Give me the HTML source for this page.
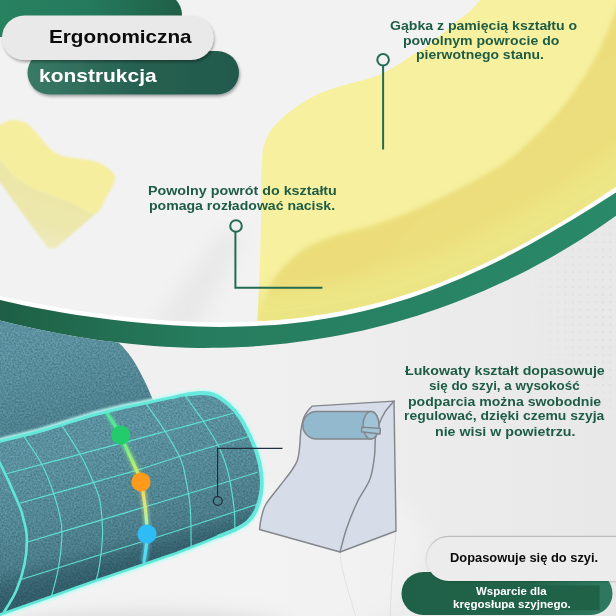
<!DOCTYPE html>
<html lang="pl"><head><meta charset="utf-8"><title>Ergonomiczna konstrukcja</title>
<style>
html,body{margin:0;padding:0}
body{width:616px;height:616px;overflow:hidden;position:relative;background:#ededed;font-family:"Liberation Sans",sans-serif;font-weight:bold}
svg{position:absolute;left:0;top:0}
.t{position:absolute;white-space:nowrap;line-height:1;transform-origin:0 0;margin:0}
.g{color:#1d5c45}
.k{color:#0a0a0a}
.w{color:#ffffff}
</style></head>
<body>
<svg width="616" height="616" viewBox="0 0 616 616">
<defs>
  <linearGradient id="bgU" x1="0" y1="0" x2="1" y2="1">
    <stop offset="0" stop-color="#f2f2f2"/><stop offset="1" stop-color="#f2f2f2"/>
  </linearGradient>
  <linearGradient id="gPill" x1="0" y1="0" x2="1" y2="0">
    <stop offset="0" stop-color="#397a66"/><stop offset="0.55" stop-color="#26604f"/><stop offset="1" stop-color="#22594b"/>
  </linearGradient>
  <linearGradient id="gTop" x1="0" y1="0" x2="1" y2="0">
    <stop offset="0.1" stop-color="#28825f"/><stop offset="0.55" stop-color="#257a5e"/><stop offset="1" stop-color="#1f5f47"/>
  </linearGradient>
  <linearGradient id="gBand" x1="0" y1="0" x2="1" y2="0">
    <stop offset="0" stop-color="#1d5b43"/><stop offset="0.1" stop-color="#20664b"/><stop offset="0.32" stop-color="#267c5e"/><stop offset="1" stop-color="#298a69"/>
  </linearGradient>
  <linearGradient id="gPill2" gradientUnits="userSpaceOnUse" x1="401" y1="0" x2="613" y2="0">
    <stop offset="0" stop-color="#1f6148"/><stop offset="0.6" stop-color="#216449"/><stop offset="0.92" stop-color="#2e7860"/><stop offset="1" stop-color="#2e7860"/>
  </linearGradient>
  <linearGradient id="pillEdge" x1="0" y1="0" x2="0" y2="1">
    <stop offset="0" stop-color="#bdbdbd"/><stop offset="0.45" stop-color="#cfcfcf" stop-opacity="0.5"/><stop offset="0.8" stop-color="#d8d8d8" stop-opacity="0"/>
  </linearGradient>
  <filter id="sh2" x="-10%" y="-30%" width="120%" height="170%">
    <feGaussianBlur in="SourceAlpha" stdDeviation="1.2"/><feOffset dx="0" dy="0.5"/>
    <feComponentTransfer><feFuncA type="linear" slope="0.18"/></feComponentTransfer>
    <feMerge><feMergeNode/><feMergeNode in="SourceGraphic"/></feMerge>
  </filter>
  <linearGradient id="foamF" x1="0" y1="0" x2="1" y2="1">
    <stop offset="0" stop-color="#ecdd79"/><stop offset="0.6" stop-color="#ecde7b"/><stop offset="1" stop-color="#ede585"/>
  </linearGradient>
  <filter id="sh" x="-10%" y="-30%" width="120%" height="170%">
    <feGaussianBlur in="SourceAlpha" stdDeviation="1.6"/><feOffset dx="1" dy="1.5"/>
    <feComponentTransfer><feFuncA type="linear" slope="0.35"/></feComponentTransfer>
    <feMerge><feMergeNode/><feMergeNode in="SourceGraphic"/></feMerge>
  </filter>
  <filter id="tex" x="0" y="0" width="100%" height="100%" color-interpolation-filters="sRGB">
    <feTurbulence type="fractalNoise" baseFrequency="0.55" numOctaves="2" seed="7" result="n"/>
    <feColorMatrix in="n" type="matrix" values="0 0 0 0 0.45  0 0 0 0 0.66  0 0 0 0 0.71  1.35 0 0 0 -0.175" result="sp"/>
    <feComposite in="sp" in2="SourceGraphic" operator="in" result="spc"/>
    <feMerge><feMergeNode in="SourceGraphic"/><feMergeNode in="spc"/></feMerge>
  </filter>
  <filter id="blur05"><feGaussianBlur stdDeviation="0.5"/></filter>
  <filter id="blur8" x="-20%" y="-40%" width="140%" height="180%"><feGaussianBlur stdDeviation="9"/></filter>
  <filter id="blur12"><feGaussianBlur stdDeviation="1.3"/></filter>
  <filter id="blur08"><feGaussianBlur stdDeviation="0.9"/></filter>
  <filter id="blur2"><feGaussianBlur stdDeviation="1.6"/></filter>
  <filter id="blur1"><feGaussianBlur stdDeviation="0.6"/></filter>
  <linearGradient id="cylG" gradientUnits="userSpaceOnUse" x1="120" y1="410" x2="160" y2="560">
    <stop offset="0.15" stop-color="#0a2a35" stop-opacity="0"/><stop offset="0.55" stop-color="#0a2a35" stop-opacity="0.1"/><stop offset="0.8" stop-color="#0a2a35" stop-opacity="0.2"/><stop offset="0.92" stop-color="#0a2a35" stop-opacity="0.42"/><stop offset="1" stop-color="#0a2a35" stop-opacity="0.5"/>
  </linearGradient>
  <linearGradient id="pilSh" gradientUnits="userSpaceOnUse" x1="60" y1="340" x2="85" y2="440">
    <stop offset="0" stop-color="#0a2a35" stop-opacity="0"/><stop offset="1" stop-color="#0a2a35" stop-opacity="0.2"/>
  </linearGradient>
  <linearGradient id="glowG" gradientUnits="userSpaceOnUse" x1="0" y1="410" x2="0" y2="562">
    <stop offset="0" stop-color="#4fe0a0"/><stop offset="0.2" stop-color="#5ff08a"/><stop offset="0.38" stop-color="#b8f070"/><stop offset="0.46" stop-color="#f0d850"/>
    <stop offset="0.58" stop-color="#e8e070"/><stop offset="0.72" stop-color="#b8f0a0"/><stop offset="0.85" stop-color="#60e0f0"/><stop offset="1" stop-color="#50d8f0"/>
  </linearGradient>
  <clipPath id="foamc"><path d="M491.0 -10.0 C489.2 -8.3 483.9 -3.6 480.4 0.0 C476.9 3.6 473.7 7.9 469.8 11.4 C465.9 14.9 461.4 17.3 456.8 21.1 C452.2 24.9 447.3 29.8 442.2 34.1 C437.1 38.4 431.4 43.3 426.0 47.1 C420.6 50.9 414.0 54.1 409.7 56.8 C405.4 59.5 404.8 60.6 400.0 63.5 C395.2 66.4 387.0 71.4 381.2 74.1 C375.4 76.8 370.4 78.2 365.0 79.8 C359.6 81.4 354.1 82.3 348.7 83.8 C343.3 85.3 337.3 87.1 332.5 88.7 C327.7 90.3 324.1 91.4 320.0 93.2 C315.9 95.0 311.9 97.2 307.7 99.7 C303.5 102.2 299.0 104.8 294.7 107.9 C290.4 111.0 285.5 114.9 281.7 118.4 C277.9 121.9 274.6 125.6 272.0 129.0 C269.4 132.4 267.8 135.2 266.3 138.7 C264.8 142.2 263.7 145.9 263.0 150.0 C262.3 154.1 262.2 157.8 261.9 163.0 C261.6 168.2 261.5 171.5 261.4 181.0 C261.2 190.5 261.2 206.8 261.0 220.0 C260.8 233.2 260.4 246.7 260.0 260.0 C259.6 273.3 259.0 288.3 258.5 300.0 C258.0 311.7 257.2 325.0 257.0 330.0 L660 330 L660 -10 Z"/></clipPath>
  <filter id="blur3" x="-5%" y="-5%" width="110%" height="110%"><feGaussianBlur stdDeviation="2.2"/></filter>
  <pattern id="dots" patternUnits="userSpaceOnUse" x="569.1" y="245.8" width="7.52" height="7.52"><circle cx="3.75" cy="3.75" r="0.95" fill="#cfcfcf"/></pattern>
  <radialGradient id="dotsM" gradientUnits="userSpaceOnUse" cx="625" cy="310" r="125" gradientTransform="translate(625 310) scale(0.85 1.1) translate(-625 -310)">
    <stop offset="0" stop-color="#fff" stop-opacity="0.6"/><stop offset="0.55" stop-color="#fff" stop-opacity="0.38"/><stop offset="1" stop-color="#fff" stop-opacity="0"/>
  </radialGradient>
  <mask id="dotsMask"><rect x="480" y="180" width="140" height="300" fill="url(#dotsM)"/></mask>
  <linearGradient id="underG" gradientUnits="userSpaceOnUse" x1="120" y1="572" x2="138" y2="622">
    <stop offset="0" stop-color="#f6f6f6" stop-opacity="0.9"/><stop offset="0.5" stop-color="#f2f2f2" stop-opacity="0.6"/><stop offset="1" stop-color="#e4e4e4" stop-opacity="0.9"/>
  </linearGradient>
  <linearGradient id="bgL" gradientUnits="userSpaceOnUse" x1="0" y1="0" x2="616" y2="0">
    <stop offset="0" stop-color="#f0f0f0"/><stop offset="0.42" stop-color="#f0f0f0"/><stop offset="0.75" stop-color="#ebebeb"/><stop offset="1" stop-color="#e8e8e8"/>
  </linearGradient>
  <linearGradient id="sfF" gradientUnits="userSpaceOnUse" x1="60" y1="185" x2="40" y2="250">
    <stop offset="0" stop-color="#ece6a6"/><stop offset="0.6" stop-color="#ece7ac"/><stop offset="1" stop-color="#eeeab8" stop-opacity="0.85"/>
  </linearGradient>
  <clipPath id="above"><path d="M-22.0 291.0 C-18.3 291.8 -7.3 294.4 0.0 296.0 C7.3 297.6 14.7 299.1 22.0 300.6 C29.3 302.1 36.7 303.5 44.0 304.8 C51.3 306.2 58.7 307.5 66.0 308.7 C73.3 309.9 80.7 311.0 88.0 312.1 C95.3 313.1 102.7 314.1 110.0 315.1 C117.3 316.0 124.7 316.8 132.0 317.6 C139.3 318.4 146.7 319.1 154.0 319.6 C161.3 320.2 168.7 320.8 176.0 321.2 C183.3 321.6 190.7 321.9 198.0 322.1 C205.3 322.3 212.7 322.4 220.0 322.4 C227.3 322.4 234.7 322.3 242.0 322.1 C249.3 321.9 256.7 321.6 264.0 321.1 C271.3 320.6 278.7 320.0 286.0 319.3 C293.3 318.6 300.7 317.7 308.0 316.7 C315.3 315.7 322.7 314.6 330.0 313.3 C337.3 312.0 344.7 310.6 352.0 309.0 C359.3 307.4 366.7 305.7 374.0 303.8 C381.3 302.0 388.7 299.9 396.0 297.7 C403.3 295.5 410.7 293.2 418.0 290.7 C425.3 288.2 432.7 285.5 440.0 282.7 C447.3 279.8 454.7 276.8 462.0 273.7 C469.3 270.5 476.7 267.2 484.0 263.8 C491.3 260.3 498.7 256.7 506.0 252.9 C513.3 249.2 520.7 245.3 528.0 241.2 C535.3 237.2 542.7 233.0 550.0 228.7 C557.3 224.4 564.7 219.9 572.0 215.4 C579.3 210.8 586.7 206.1 594.0 201.4 C601.3 196.6 608.7 191.7 616.0 186.8 C623.3 181.9 630.7 176.8 638.0 171.7 C645.3 166.7 656.3 158.9 660.0 156.3 L660 -10 L-22 -10 Z"/></clipPath>
  <clipPath id="below"><path d="M-22.0 315.1 C-18.3 316.0 -7.3 318.8 0.0 320.6 C7.3 322.4 14.7 324.1 22.0 325.7 C29.3 327.4 36.7 329.0 44.0 330.4 C51.3 331.9 58.7 333.3 66.0 334.7 C73.3 336.0 80.7 337.2 88.0 338.4 C95.3 339.5 102.7 340.6 110.0 341.5 C117.3 342.4 124.7 343.3 132.0 344.0 C139.3 344.8 146.7 345.4 154.0 346.0 C161.3 346.5 168.7 346.9 176.0 347.2 C183.3 347.6 190.7 347.8 198.0 347.9 C205.3 348.0 212.7 347.9 220.0 347.8 C227.3 347.7 234.7 347.4 242.0 347.1 C249.3 346.7 256.7 346.2 264.0 345.6 C271.3 345.0 278.7 344.3 286.0 343.5 C293.3 342.7 300.7 341.7 308.0 340.6 C315.3 339.6 322.7 338.4 330.0 337.1 C337.3 335.8 344.7 334.3 352.0 332.8 C359.3 331.2 366.7 329.5 374.0 327.7 C381.3 325.9 388.7 324.0 396.0 321.9 C403.3 319.9 410.7 317.7 418.0 315.4 C425.3 313.0 432.7 310.6 440.0 308.0 C447.3 305.4 454.7 302.7 462.0 299.8 C469.3 296.9 476.7 293.9 484.0 290.8 C491.3 287.6 498.7 284.3 506.0 280.8 C513.3 277.4 520.7 273.7 528.0 269.9 C535.3 266.1 542.7 262.2 550.0 258.1 C557.3 253.9 564.7 249.6 572.0 245.1 C579.3 240.6 586.7 235.9 594.0 231.0 C601.3 226.1 608.7 221.0 616.0 215.7 C623.3 210.4 630.7 204.9 638.0 199.1 C645.3 193.3 656.3 184.0 660.0 181.0 L660 640 L-22 640 Z"/></clipPath>
  <clipPath id="cylc"><path d="M-6.0 443.0 C-5.0 442.7 -8.3 443.5 0.0 441.4 C8.3 439.3 28.8 434.5 43.8 430.3 C58.8 426.1 77.3 419.6 90.0 416.0 C102.7 412.4 111.9 410.4 120.0 408.5 C128.1 406.6 130.4 406.4 138.7 404.6 C147.0 402.8 162.1 399.6 170.0 397.9 C177.9 396.2 180.8 395.4 186.2 394.6 C191.6 393.8 197.6 392.9 202.5 393.0 C207.4 393.1 211.2 393.5 215.5 395.4 C219.8 397.3 224.3 400.8 228.4 404.4 C232.5 408.0 236.3 412.2 239.8 417.3 C243.3 422.4 246.6 429.0 249.5 435.2 C252.4 441.4 255.3 448.2 257.3 454.7 C259.3 461.2 260.7 467.8 261.3 474.0 C261.9 480.2 262.1 485.9 261.2 492.0 C260.3 498.1 258.2 505.4 256.0 510.3 C253.8 515.2 251.4 518.5 247.9 521.7 C244.4 525.0 239.8 527.4 234.9 529.8 C230.0 532.2 225.4 533.6 218.7 536.3 C211.9 539.0 202.5 542.8 194.4 546.0 C186.3 549.2 185.7 549.8 170.0 555.3 C154.3 560.8 120.0 572.3 100.0 579.3 C80.0 586.2 66.1 591.3 50.0 597.0 C33.9 602.7 12.5 610.1 3.2 613.4 C-6.1 616.7 -4.5 616.1 -6.0 616.6 Z"/></clipPath>
</defs>

<!-- background -->
<rect width="616" height="616" fill="url(#bgL)"/>
<g clip-path="url(#above)"><rect width="616" height="360" fill="url(#bgU)"/>
  <path d="M222 232 L246 232 L196 330 L150 330 Z" fill="#e4e4e4" opacity="0.7" filter="url(#blur8)"/></g>

<!-- header pills -->
<rect x="-30" y="-7" width="212" height="44" rx="22" fill="url(#gTop)"/>
<rect x="27.5" y="51" width="211.5" height="43.5" rx="21.75" fill="url(#gPill)" filter="url(#sh)"/>
<rect x="2" y="15.5" width="211.5" height="44.5" rx="22.25" fill="#e9e9e9" filter="url(#sh)"/>

<!-- small foam -->
<g filter="url(#blur08)"><path d="M-4.0 154.0 C-3.3 154.8 -2.8 155.4 0.0 158.8 C2.8 162.2 7.4 169.8 12.7 174.6 C18.0 179.3 24.9 183.8 31.6 187.3 C38.3 190.8 45.7 192.9 52.7 195.7 C59.7 198.5 67.2 200.9 73.8 204.0 C80.3 207.1 89.0 212.3 92.0 214.0 L99.2 210.5 L57 247 Q52 250 47 247 L-4 177 Z" fill="url(#sfF)"/>
<path d="M-4.0 127.0 C-3.3 126.7 -2.1 126.0 0.0 125.0 C2.1 124.0 5.6 121.6 8.4 120.8 C11.2 120.0 13.7 119.7 16.9 120.2 C20.1 120.7 23.9 121.6 27.4 124.0 C30.9 126.4 34.5 130.6 38.0 134.5 C41.5 138.4 44.6 143.7 48.5 147.2 C52.4 150.7 55.9 153.7 61.2 155.6 C66.5 157.5 74.2 157.7 80.2 158.8 C86.2 159.9 92.1 160.2 97.0 162.0 C101.9 163.8 106.7 167.1 109.7 169.4 C112.7 171.7 114.1 174.6 115.0 175.7 C114.8 176.9 115.3 179.6 114.0 183.0 C112.7 186.4 109.5 191.4 107.0 196.0 C104.5 200.6 101.7 207.5 99.2 210.5 C96.7 213.5 93.2 213.4 92.0 214.0 C89.0 212.3 80.3 207.1 73.8 204.0 C67.2 200.9 59.7 198.5 52.7 195.7 C45.7 192.9 38.3 190.8 31.6 187.3 C24.9 183.8 18.0 179.3 12.7 174.6 C7.4 169.8 2.8 162.2 0.0 158.8 C-2.8 155.4 -3.3 154.8 -4.0 154.0 Z" fill="#f5ee9f"/></g>

<!-- big foam -->
<g clip-path="url(#above)">
  <path d="M491.0 -10.0 C489.2 -8.3 483.9 -3.6 480.4 0.0 C476.9 3.6 473.7 7.9 469.8 11.4 C465.9 14.9 461.4 17.3 456.8 21.1 C452.2 24.9 447.3 29.8 442.2 34.1 C437.1 38.4 431.4 43.3 426.0 47.1 C420.6 50.9 414.0 54.1 409.7 56.8 C405.4 59.5 404.8 60.6 400.0 63.5 C395.2 66.4 387.0 71.4 381.2 74.1 C375.4 76.8 370.4 78.2 365.0 79.8 C359.6 81.4 354.1 82.3 348.7 83.8 C343.3 85.3 337.3 87.1 332.5 88.7 C327.7 90.3 324.1 91.4 320.0 93.2 C315.9 95.0 311.9 97.2 307.7 99.7 C303.5 102.2 299.0 104.8 294.7 107.9 C290.4 111.0 285.5 114.9 281.7 118.4 C277.9 121.9 274.6 125.6 272.0 129.0 C269.4 132.4 267.8 135.2 266.3 138.7 C264.8 142.2 263.7 145.9 263.0 150.0 C262.3 154.1 262.2 157.8 261.9 163.0 C261.6 168.2 261.5 171.5 261.4 181.0 C261.2 190.5 261.2 206.8 261.0 220.0 C260.8 233.2 260.4 246.7 260.0 260.0 C259.6 273.3 259.0 288.3 258.5 300.0 C258.0 311.7 257.2 325.0 257.0 330.0 L660 330 L660 -10 Z" fill="#f6f09f"/>
  <g clip-path="url(#foamc)"><path d="M250.0 345.0 C251.5 340.5 256.8 324.2 259.0 318.0 C261.2 311.8 260.7 314.3 263.0 308.0 C265.3 301.7 267.3 289.0 273.0 280.0 C278.7 271.0 287.5 261.2 297.0 254.0 C306.5 246.8 316.2 242.2 330.0 237.0 C343.8 231.8 362.3 229.2 380.0 223.0 C397.7 216.8 417.2 208.8 436.0 200.0 C454.8 191.2 479.0 178.3 493.0 170.0 C507.0 161.7 508.8 160.0 520.0 150.0 C531.2 140.0 547.7 125.0 560.0 110.0 C572.3 95.0 584.7 76.7 594.0 60.0 C603.3 43.3 611.3 20.8 616.0 10.0 C620.7 -0.8 621.0 -2.5 622.0 -5.0 L660 -5 L660 350 L250 350 Z" fill="url(#foamF)" filter="url(#blur3)"/>
    <path d="M-22.0 291.0 C-18.3 291.8 -7.3 294.4 0.0 296.0 C7.3 297.6 14.7 299.1 22.0 300.6 C29.3 302.1 36.7 303.5 44.0 304.8 C51.3 306.2 58.7 307.5 66.0 308.7 C73.3 309.9 80.7 311.0 88.0 312.1 C95.3 313.1 102.7 314.1 110.0 315.1 C117.3 316.0 124.7 316.8 132.0 317.6 C139.3 318.4 146.7 319.1 154.0 319.6 C161.3 320.2 168.7 320.8 176.0 321.2 C183.3 321.6 190.7 321.9 198.0 322.1 C205.3 322.3 212.7 322.4 220.0 322.4 C227.3 322.4 234.7 322.3 242.0 322.1 C249.3 321.9 256.7 321.6 264.0 321.1 C271.3 320.6 278.7 320.0 286.0 319.3 C293.3 318.6 300.7 317.7 308.0 316.7 C315.3 315.7 322.7 314.6 330.0 313.3 C337.3 312.0 344.7 310.6 352.0 309.0 C359.3 307.4 366.7 305.7 374.0 303.8 C381.3 302.0 388.7 299.9 396.0 297.7 C403.3 295.5 410.7 293.2 418.0 290.7 C425.3 288.2 432.7 285.5 440.0 282.7 C447.3 279.8 454.7 276.8 462.0 273.7 C469.3 270.5 476.7 267.2 484.0 263.8 C491.3 260.3 498.7 256.7 506.0 252.9 C513.3 249.2 520.7 245.3 528.0 241.2 C535.3 237.2 542.7 233.0 550.0 228.7 C557.3 224.4 564.7 219.9 572.0 215.4 C579.3 210.8 586.7 206.1 594.0 201.4 C601.3 196.6 608.7 191.7 616.0 186.8 C623.3 181.9 630.7 176.8 638.0 171.7 C645.3 166.7 656.3 158.9 660.0 156.3" fill="none" stroke="#ede787" stroke-width="56" opacity="0.85" filter="url(#blur8)"/></g>
</g>

<!-- callout lines upper -->
<g fill="none" stroke="#236b52" stroke-width="2">
  <circle cx="383.1" cy="59.8" r="5.8"/>
  <path d="M383.1 65.5 V149.5"/>
  <circle cx="236" cy="226" r="5.8"/>
  <path d="M235.4 231.8 V287.8 H322.4"/>
</g>

<!-- bands -->
<path d="M-22.0 291.0 C-18.3 291.8 -7.3 294.4 0.0 296.0 C7.3 297.6 14.7 299.1 22.0 300.6 C29.3 302.1 36.7 303.5 44.0 304.8 C51.3 306.2 58.7 307.5 66.0 308.7 C73.3 309.9 80.7 311.0 88.0 312.1 C95.3 313.1 102.7 314.1 110.0 315.1 C117.3 316.0 124.7 316.8 132.0 317.6 C139.3 318.4 146.7 319.1 154.0 319.6 C161.3 320.2 168.7 320.8 176.0 321.2 C183.3 321.6 190.7 321.9 198.0 322.1 C205.3 322.3 212.7 322.4 220.0 322.4 C227.3 322.4 234.7 322.3 242.0 322.1 C249.3 321.9 256.7 321.6 264.0 321.1 C271.3 320.6 278.7 320.0 286.0 319.3 C293.3 318.6 300.7 317.7 308.0 316.7 C315.3 315.7 322.7 314.6 330.0 313.3 C337.3 312.0 344.7 310.6 352.0 309.0 C359.3 307.4 366.7 305.7 374.0 303.8 C381.3 302.0 388.7 299.9 396.0 297.7 C403.3 295.5 410.7 293.2 418.0 290.7 C425.3 288.2 432.7 285.5 440.0 282.7 C447.3 279.8 454.7 276.8 462.0 273.7 C469.3 270.5 476.7 267.2 484.0 263.8 C491.3 260.3 498.7 256.7 506.0 252.9 C513.3 249.2 520.7 245.3 528.0 241.2 C535.3 237.2 542.7 233.0 550.0 228.7 C557.3 224.4 564.7 219.9 572.0 215.4 C579.3 210.8 586.7 206.1 594.0 201.4 C601.3 196.6 608.7 191.7 616.0 186.8 C623.3 181.9 630.7 176.8 638.0 171.7 C645.3 166.7 656.3 158.9 660.0 156.3 L660.0 164.5 C656.3 166.8 645.3 173.8 638.0 178.4 C630.7 183.1 623.3 187.8 616.0 192.5 C608.7 197.2 601.3 201.8 594.0 206.4 C586.7 211.0 579.3 215.5 572.0 220.0 C564.7 224.4 557.3 228.8 550.0 233.1 C542.7 237.3 535.3 241.5 528.0 245.5 C520.7 249.5 513.3 253.4 506.0 257.2 C498.7 261.0 491.3 264.6 484.0 268.1 C476.7 271.6 469.3 274.9 462.0 278.1 C454.7 281.2 447.3 284.3 440.0 287.1 C432.7 290.0 425.3 292.7 418.0 295.2 C410.7 297.8 403.3 300.1 396.0 302.3 C388.7 304.5 381.3 306.6 374.0 308.5 C366.7 310.4 359.3 312.1 352.0 313.7 C344.7 315.3 337.3 316.7 330.0 318.0 C322.7 319.2 315.3 320.4 308.0 321.4 C300.7 322.3 293.3 323.2 286.0 323.9 C278.7 324.6 271.3 325.2 264.0 325.6 C256.7 326.1 249.3 326.4 242.0 326.6 C234.7 326.8 227.3 326.9 220.0 326.9 C212.7 326.9 205.3 326.8 198.0 326.6 C190.7 326.4 183.3 326.0 176.0 325.6 C168.7 325.2 161.3 324.7 154.0 324.1 C146.7 323.5 139.3 322.8 132.0 322.1 C124.7 321.3 117.3 320.5 110.0 319.6 C102.7 318.7 95.3 317.7 88.0 316.6 C80.7 315.5 73.3 314.4 66.0 313.2 C58.7 311.9 51.3 310.7 44.0 309.3 C36.7 307.9 29.3 306.4 22.0 304.9 C14.7 303.3 7.3 301.7 0.0 300.0 C-7.3 298.3 -18.3 295.4 -22.0 294.5 Z" fill="#ffffff"/>
<path d="M-22.0 294.5 C-18.3 295.4 -7.3 298.3 0.0 300.0 C7.3 301.7 14.7 303.3 22.0 304.9 C29.3 306.4 36.7 307.9 44.0 309.3 C51.3 310.7 58.7 311.9 66.0 313.2 C73.3 314.4 80.7 315.5 88.0 316.6 C95.3 317.7 102.7 318.7 110.0 319.6 C117.3 320.5 124.7 321.3 132.0 322.1 C139.3 322.8 146.7 323.5 154.0 324.1 C161.3 324.7 168.7 325.2 176.0 325.6 C183.3 326.0 190.7 326.4 198.0 326.6 C205.3 326.8 212.7 326.9 220.0 326.9 C227.3 326.9 234.7 326.8 242.0 326.6 C249.3 326.4 256.7 326.1 264.0 325.6 C271.3 325.2 278.7 324.6 286.0 323.9 C293.3 323.2 300.7 322.3 308.0 321.4 C315.3 320.4 322.7 319.2 330.0 318.0 C337.3 316.7 344.7 315.3 352.0 313.7 C359.3 312.1 366.7 310.4 374.0 308.5 C381.3 306.6 388.7 304.5 396.0 302.3 C403.3 300.1 410.7 297.8 418.0 295.2 C425.3 292.7 432.7 290.0 440.0 287.1 C447.3 284.3 454.7 281.2 462.0 278.1 C469.3 274.9 476.7 271.6 484.0 268.1 C491.3 264.6 498.7 261.0 506.0 257.2 C513.3 253.4 520.7 249.5 528.0 245.5 C535.3 241.5 542.7 237.3 550.0 233.1 C557.3 228.8 564.7 224.4 572.0 220.0 C579.3 215.5 586.7 211.0 594.0 206.4 C601.3 201.8 608.7 197.2 616.0 192.5 C623.3 187.8 630.7 183.1 638.0 178.4 C645.3 173.8 656.3 166.8 660.0 164.5 L660.0 181.0 C656.3 184.0 645.3 193.3 638.0 199.1 C630.7 204.9 623.3 210.4 616.0 215.7 C608.7 221.0 601.3 226.1 594.0 231.0 C586.7 235.9 579.3 240.6 572.0 245.1 C564.7 249.6 557.3 253.9 550.0 258.1 C542.7 262.2 535.3 266.1 528.0 269.9 C520.7 273.7 513.3 277.4 506.0 280.8 C498.7 284.3 491.3 287.6 484.0 290.8 C476.7 293.9 469.3 296.9 462.0 299.8 C454.7 302.7 447.3 305.4 440.0 308.0 C432.7 310.6 425.3 313.0 418.0 315.4 C410.7 317.7 403.3 319.9 396.0 321.9 C388.7 324.0 381.3 325.9 374.0 327.7 C366.7 329.5 359.3 331.2 352.0 332.8 C344.7 334.3 337.3 335.8 330.0 337.1 C322.7 338.4 315.3 339.6 308.0 340.6 C300.7 341.7 293.3 342.7 286.0 343.5 C278.7 344.3 271.3 345.0 264.0 345.6 C256.7 346.2 249.3 346.7 242.0 347.1 C234.7 347.4 227.3 347.7 220.0 347.8 C212.7 347.9 205.3 348.0 198.0 347.9 C190.7 347.8 183.3 347.6 176.0 347.2 C168.7 346.9 161.3 346.5 154.0 346.0 C146.7 345.4 139.3 344.8 132.0 344.0 C124.7 343.3 117.3 342.4 110.0 341.5 C102.7 340.6 95.3 339.5 88.0 338.4 C80.7 337.2 73.3 336.0 66.0 334.7 C58.7 333.3 51.3 331.9 44.0 330.4 C36.7 329.0 29.3 327.4 22.0 325.7 C14.7 324.1 7.3 322.4 0.0 320.6 C-7.3 318.8 -18.3 316.0 -22.0 315.1 Z" fill="url(#gBand)"/>

<g clip-path="url(#below)"><rect x="480" y="180" width="140" height="300" fill="url(#dots)" mask="url(#dotsMask)"/></g>
<g filter="url(#blur8)">
  <path d="M-20 600 L100 560 L236 510 L262 480 L300 500 L400 500 L430 540 L400 600 L330 640 L120 640 L-20 650 Z" fill="#f6f6f6" opacity="0.45"/>
  <ellipse cx="150" cy="628" rx="140" ry="16" fill="#cfcfcf" opacity="0.7"/>
</g>
<!-- lower scene -->
<g clip-path="url(#below)">
  <path d="M-5 300 L104 300 L104.0 338.0 C105.5 338.3 110.2 338.8 113.0 340.0 C115.8 341.2 117.7 341.7 121.0 345.0 C124.3 348.3 129.2 354.2 133.0 360.0 C136.8 365.8 140.8 373.7 144.0 380.0 C147.2 386.3 149.7 392.7 152.0 398.0 C154.3 403.3 157.0 409.7 158.0 412.0 L158 470 L-5 470 Z" fill="#447a89" filter="url(#tex)"/>
  <path d="M-5 300 L104 300 L104.0 338.0 C105.5 338.3 110.2 338.8 113.0 340.0 C115.8 341.2 117.7 341.7 121.0 345.0 C124.3 348.3 129.2 354.2 133.0 360.0 C136.8 365.8 140.8 373.7 144.0 380.0 C147.2 386.3 149.7 392.7 152.0 398.0 C154.3 403.3 157.0 409.7 158.0 412.0 L158 470 L-5 470 Z" fill="url(#pilSh)"/>
</g>
<path d="M-6.0 443.0 C-5.0 442.7 -8.3 443.5 0.0 441.4 C8.3 439.3 28.8 434.5 43.8 430.3 C58.8 426.1 77.3 419.6 90.0 416.0 C102.7 412.4 111.9 410.4 120.0 408.5 C128.1 406.6 130.4 406.4 138.7 404.6 C147.0 402.8 162.1 399.6 170.0 397.9 C177.9 396.2 180.8 395.4 186.2 394.6 C191.6 393.8 197.6 392.9 202.5 393.0 C207.4 393.1 211.2 393.5 215.5 395.4 C219.8 397.3 224.3 400.8 228.4 404.4 C232.5 408.0 236.3 412.2 239.8 417.3 C243.3 422.4 246.6 429.0 249.5 435.2 C252.4 441.4 255.3 448.2 257.3 454.7 C259.3 461.2 260.7 467.8 261.3 474.0 C261.9 480.2 262.1 485.9 261.2 492.0 C260.3 498.1 258.2 505.4 256.0 510.3 C253.8 515.2 251.4 518.5 247.9 521.7 C244.4 525.0 239.8 527.4 234.9 529.8 C230.0 532.2 225.4 533.6 218.7 536.3 C211.9 539.0 202.5 542.8 194.4 546.0 C186.3 549.2 185.7 549.8 170.0 555.3 C154.3 560.8 120.0 572.3 100.0 579.3 C80.0 586.2 66.1 591.3 50.0 597.0 C33.9 602.7 12.5 610.1 3.2 613.4 C-6.1 616.7 -4.5 616.1 -6.0 616.6 Z" fill="none" stroke="#bffbf4" stroke-width="7" opacity="0.9" filter="url(#blur12)"/>
<path d="M-6.0 443.0 C-5.0 442.7 -8.3 443.5 0.0 441.4 C8.3 439.3 28.8 434.5 43.8 430.3 C58.8 426.1 77.3 419.6 90.0 416.0 C102.7 412.4 111.9 410.4 120.0 408.5 C128.1 406.6 130.4 406.4 138.7 404.6 C147.0 402.8 162.1 399.6 170.0 397.9 C177.9 396.2 180.8 395.4 186.2 394.6 C191.6 393.8 197.6 392.9 202.5 393.0 C207.4 393.1 211.2 393.5 215.5 395.4 C219.8 397.3 224.3 400.8 228.4 404.4 C232.5 408.0 236.3 412.2 239.8 417.3 C243.3 422.4 246.6 429.0 249.5 435.2 C252.4 441.4 255.3 448.2 257.3 454.7 C259.3 461.2 260.7 467.8 261.3 474.0 C261.9 480.2 262.1 485.9 261.2 492.0 C260.3 498.1 258.2 505.4 256.0 510.3 C253.8 515.2 251.4 518.5 247.9 521.7 C244.4 525.0 239.8 527.4 234.9 529.8 C230.0 532.2 225.4 533.6 218.7 536.3 C211.9 539.0 202.5 542.8 194.4 546.0 C186.3 549.2 185.7 549.8 170.0 555.3 C154.3 560.8 120.0 572.3 100.0 579.3 C80.0 586.2 66.1 591.3 50.0 597.0 C33.9 602.7 12.5 610.1 3.2 613.4 C-6.1 616.7 -4.5 616.1 -6.0 616.6 Z" fill="#437988" filter="url(#tex)"/>
<path d="M-6.0 443.0 C-5.0 442.7 -8.3 443.5 0.0 441.4 C8.3 439.3 28.8 434.5 43.8 430.3 C58.8 426.1 77.3 419.6 90.0 416.0 C102.7 412.4 111.9 410.4 120.0 408.5 C128.1 406.6 130.4 406.4 138.7 404.6 C147.0 402.8 162.1 399.6 170.0 397.9 C177.9 396.2 180.8 395.4 186.2 394.6 C191.6 393.8 197.6 392.9 202.5 393.0 C207.4 393.1 211.2 393.5 215.5 395.4 C219.8 397.3 224.3 400.8 228.4 404.4 C232.5 408.0 236.3 412.2 239.8 417.3 C243.3 422.4 246.6 429.0 249.5 435.2 C252.4 441.4 255.3 448.2 257.3 454.7 C259.3 461.2 260.7 467.8 261.3 474.0 C261.9 480.2 262.1 485.9 261.2 492.0 C260.3 498.1 258.2 505.4 256.0 510.3 C253.8 515.2 251.4 518.5 247.9 521.7 C244.4 525.0 239.8 527.4 234.9 529.8 C230.0 532.2 225.4 533.6 218.7 536.3 C211.9 539.0 202.5 542.8 194.4 546.0 C186.3 549.2 185.7 549.8 170.0 555.3 C154.3 560.8 120.0 572.3 100.0 579.3 C80.0 586.2 66.1 591.3 50.0 597.0 C33.9 602.7 12.5 610.1 3.2 613.4 C-6.1 616.7 -4.5 616.1 -6.0 616.6 Z" fill="url(#cylG)"/>
<g clip-path="url(#cylc)">
  <g fill="none" stroke="#60e4d6" stroke-width="1.15" opacity="0.95">
    <path d="M6.5 473.8 C22.1 469.6 72.8 456.2 100.0 448.9 C127.2 441.6 147.8 436.1 170.0 430.2 C192.2 424.3 222.8 416.1 233.3 413.3"/><path d="M20.3 503.0 C33.6 499.3 80.3 486.2 100.0 480.6 C119.7 475.0 123.7 474.2 138.7 469.6 C153.7 465.1 171.8 458.8 190.0 453.3 C208.2 447.8 238.2 439.6 247.9 436.8"/><path d="M27.6 542.0 C39.7 538.4 76.3 527.5 100.0 520.4 C123.7 513.3 143.7 507.3 170.0 499.3 C196.3 491.3 243.1 476.7 257.7 472.2"/><path d="M21.9 579.3 C34.9 575.2 75.3 562.5 100.0 554.8 C124.7 547.1 143.6 541.5 170.0 533.0 C196.4 524.5 243.8 508.7 258.5 503.8"/>
    <path d="M20.0 430.0 C20.6 430.9 19.8 429.9 23.5 435.7 C27.2 441.5 37.2 455.3 42.2 464.9 C47.2 474.5 50.5 484.0 53.6 493.3 C56.7 502.6 59.5 513.0 60.9 520.9 C62.2 528.8 62.1 532.5 61.7 540.4 C61.3 548.2 59.9 559.5 58.4 568.0 C56.9 576.5 54.2 586.2 52.8 591.5 C51.4 596.8 50.5 598.6 50.0 600.0"/><path d="M59.0 421.0 C59.5 421.8 58.3 419.7 62.0 425.5 C65.7 431.3 75.7 446.3 81.0 456.0 C86.3 465.7 90.8 476.0 94.0 483.6 C97.2 491.2 98.6 493.0 100.0 501.4 C101.4 509.8 102.7 523.4 102.6 534.0 C102.5 544.6 100.6 557.2 99.5 565.0 C98.4 572.8 96.9 577.2 96.0 581.0 C95.1 584.8 94.3 586.8 94.0 588.0"/><path d="M144.0 400.5 C144.5 401.2 143.4 399.6 146.8 404.6 C150.2 409.6 159.0 421.4 164.7 430.6 C170.4 439.8 177.3 451.4 180.9 459.8 C184.5 468.2 184.6 473.0 186.2 481.1 C187.8 489.2 189.5 498.4 190.3 508.7 C191.1 519.0 191.0 535.9 191.1 542.8 C191.2 549.7 191.0 548.8 191.0 550.0"/><path d="M183.5 393.0 C183.9 393.7 182.8 392.1 186.2 397.0 C189.6 401.9 198.7 413.9 204.1 422.2 C209.5 430.5 214.9 439.0 218.7 446.6 C222.5 454.2 224.9 461.9 226.8 467.7 C228.7 473.4 228.8 474.3 230.0 481.1 C231.2 487.9 233.3 500.8 234.1 508.7 C234.9 516.5 234.8 524.2 234.9 528.2 C235.1 532.2 235.0 532.2 235.0 533.0"/>
  </g>
  <path d="M-6.0 452.0 C-5.0 453.9 -2.6 458.0 0.0 463.3 C2.6 468.6 6.4 476.4 9.7 483.6 C12.9 490.8 17.3 500.9 19.5 506.3 C21.7 511.7 21.5 510.9 22.7 516.0 C23.9 521.1 26.5 528.9 26.8 537.0 C27.1 545.1 26.2 555.8 24.4 564.7 C22.6 573.7 19.7 582.6 16.2 590.7 C12.7 598.8 6.2 608.4 3.2 613.4 C0.2 618.4 -1.1 619.7 -2.0 621.0" fill="none" stroke="#5fe6d6" stroke-width="2.6"/>
  <path d="M106.2 411.9 C108.6 415.8 117.7 429.6 120.8 435.1 C123.9 440.7 122.2 439.2 124.9 445.2 C127.6 451.2 134.3 465.1 137.0 471.2 C139.7 477.3 139.7 475.2 141.1 481.7 C142.5 488.2 144.5 501.3 145.5 510.0 C146.5 518.7 146.9 527.7 147.0 534.0 C147.1 540.3 146.5 543.3 146.0 548.0 C145.5 552.7 144.3 559.7 144.0 562.0" fill="none" stroke="url(#glowG)" stroke-width="6.5" opacity="0.5" filter="url(#blur2)"/>
  <path d="M106.2 411.9 C108.6 415.8 117.7 429.6 120.8 435.1 C123.9 440.7 122.2 439.2 124.9 445.2 C127.6 451.2 134.3 465.1 137.0 471.2 C139.7 477.3 139.7 475.2 141.1 481.7 C142.5 488.2 144.5 501.3 145.5 510.0 C146.5 518.7 146.9 527.7 147.0 534.0 C147.1 540.3 146.5 543.3 146.0 548.0 C145.5 552.7 144.3 559.7 144.0 562.0" fill="none" stroke="url(#glowG)" stroke-width="3.2" stroke-linecap="round" filter="url(#blur1)"/>
</g>
<path d="M-6.0 443.0 C-5.0 442.7 -8.3 443.5 0.0 441.4 C8.3 439.3 28.8 434.5 43.8 430.3 C58.8 426.1 77.3 419.6 90.0 416.0 C102.7 412.4 111.9 410.4 120.0 408.5 C128.1 406.6 130.4 406.4 138.7 404.6 C147.0 402.8 162.1 399.6 170.0 397.9 C177.9 396.2 180.8 395.4 186.2 394.6 C191.6 393.8 197.6 392.9 202.5 393.0" fill="none" stroke="#64e8da" stroke-width="3" stroke-linecap="round"/>
<path d="M186.2 394.6 C191.6 393.8 197.6 392.9 202.5 393.0 C207.4 393.1 211.2 393.5 215.5 395.4 C219.8 397.3 224.3 400.8 228.4 404.4 C232.5 408.0 236.3 412.2 239.8 417.3 C243.3 422.4 246.6 429.0 249.5 435.2 C252.4 441.4 255.3 448.2 257.3 454.7 C259.3 461.2 260.7 467.8 261.3 474.0 C261.9 480.2 262.1 485.9 261.2 492.0 C260.3 498.1 258.2 505.4 256.0 510.3 C253.8 515.2 251.4 518.5 247.9 521.7 C244.4 525.0 239.8 527.4 234.9 529.8 C230.0 532.2 225.4 533.6 218.7 536.3" fill="none" stroke="#68e9dd" stroke-width="3.8" stroke-linecap="round"/>
<path d="M234.9 529.8 C230.0 532.2 225.4 533.6 218.7 536.3 C211.9 539.0 202.5 542.8 194.4 546.0 C186.3 549.2 185.7 549.8 170.0 555.3 C154.3 560.8 120.0 572.3 100.0 579.3 C80.0 586.2 66.1 591.3 50.0 597.0 C33.9 602.7 12.5 610.1 3.2 613.4 C-6.1 616.7 -4.5 616.1 -6.0 616.6" fill="none" stroke="#5fe6d6" stroke-width="2.7" stroke-linecap="round"/>
<g filter="url(#blur05)"><circle cx="120.8" cy="435" r="9.6" fill="#22cc6c"/>
<circle cx="141" cy="482" r="9.6" fill="#ff9a1a"/>
<circle cx="147" cy="534" r="9.6" fill="#2dbcf5"/></g>

<!-- callout dark -->
<g fill="none" stroke="#1f2d3d" stroke-width="1.2">
  <circle cx="217.8" cy="501" r="4.4"/>
  <path d="M217.6 496.6 V448.3 H282.5"/>
</g>

<g fill="none" stroke="#d9d9d9" stroke-width="1" opacity="0.7" filter="url(#blur05)">
  <path d="M340 553 C342 575 350 595 356 618"/><path d="M396 532 C393 560 391 590 390 618"/>
</g>
<!-- icon -->
<g stroke="#83868b" stroke-width="1.45" stroke-linejoin="round" stroke-linecap="round">
<path d="M312.0 406.1 C310.7 407.8 306.2 412.4 304.4 416.3 C302.6 420.2 301.8 424.5 301.0 429.8 C300.2 435.1 300.1 443.0 299.5 448.0 C298.9 453.0 298.8 456.3 297.5 460.0 C296.2 463.7 295.1 465.5 292.0 470.0 C288.9 474.5 283.3 481.3 279.0 487.0 C274.7 492.7 268.9 499.0 266.0 504.0 C263.1 509.0 262.6 512.8 261.5 517.0 C260.4 521.2 259.8 527.4 259.5 529.5 L340 552 L396 531 L394 401.1 Z" fill="#d6dce8"/>
<path d="M394.0 401.1 C392.6 402.8 388.0 407.3 385.5 411.2 C383.0 415.1 380.5 420.2 378.8 424.7 C377.1 429.2 376.1 433.0 375.4 438.2 C374.7 443.4 375.4 449.2 374.5 456.0 C373.6 462.8 372.9 471.2 370.0 479.0 C367.1 486.8 360.9 494.4 357.0 502.7 C353.1 511.0 349.3 520.5 346.5 528.7 C343.7 536.9 341.1 548.1 340.0 552.0" fill="none"/>
<path d="M316.5 411.5 H371 A8 13.7 0 0 1 371 439 H316.5 A13.7 13.75 0 0 1 316.5 411.5 Z" fill="#92b9ce"/>
<ellipse cx="371" cy="425.2" rx="8" ry="13.7" fill="#a0c3d6"/>
<path d="M361.8 427.2 L380.3 428.4 L380.1 434 L361.5 431.8 Z" fill="#a0c3d6"/>
</g>

<!-- bottom pills -->
<rect x="401.5" y="572" width="211" height="43" rx="21.5" fill="url(#gPill2)"/>
<rect x="446" y="585.4" width="153.6" height="24.8" fill="#206248"/>
<rect x="426.4" y="536.4" width="230" height="44.6" rx="22.3" fill="#ececec" filter="url(#sh2)"/>
<rect x="426.4" y="536.4" width="230" height="44.6" rx="22.3" fill="none" stroke="url(#pillEdge)" stroke-width="1.1"/>
</svg>

<div class="t k" style="left:49.36px;top:27.59px;font-size:18.2px;transform:scaleX(1.1383)">Ergonomiczna</div>
<div class="t w" style="left:38.70px;top:65.92px;font-size:19.0px;transform:scaleX(1.1029)">konstrukcja</div>
<div class="t g" style="left:389.70px;top:19.75px;font-size:12.7px;transform:scaleX(1.1098)">Gąbka z pamięcią kształtu o</div>
<div class="t g" style="left:403.40px;top:34.75px;font-size:12.7px;transform:scaleX(1.1089)">powolnym powrocie do</div>
<div class="t g" style="left:416.00px;top:49.45px;font-size:12.7px;transform:scaleX(1.1004)">pierwotnego stanu.</div>
<div class="t g" style="left:147.80px;top:185.05px;font-size:12.7px;transform:scaleX(1.1257)">Powolny powrót do kształtu</div>
<div class="t g" style="left:148.80px;top:200.05px;font-size:12.7px;transform:scaleX(1.1089)">pomaga rozładować nacisk.</div>
<div class="t g" style="left:404.90px;top:364.95px;font-size:12.7px;transform:scaleX(1.1200)">Łukowaty kształt dopasowuje</div>
<div class="t g" style="left:429.00px;top:380.15px;font-size:12.7px;transform:scaleX(1.0576)">się do szyi, a wysokość</div>
<div class="t g" style="left:408.10px;top:395.65px;font-size:12.7px;transform:scaleX(1.1094)">podparcia można swobodnie</div>
<div class="t g" style="left:404.00px;top:410.45px;font-size:12.7px;transform:scaleX(1.0966)">regulować, dzięki czemu szyja</div>
<div class="t g" style="left:434.90px;top:426.00px;font-size:12.7px;transform:scaleX(1.1192)">nie wisi w powietrzu.</div>
<div class="t k" style="left:449.60px;top:551.74px;font-size:12.0px;transform:scaleX(1.0733)">Dopasowuje się do szyi.</div>
<div class="t w" style="left:475.80px;top:585.96px;font-size:10.8px;transform:scaleX(1.0592)">Wsparcie dla</div>
<div class="t w" style="left:452.80px;top:598.96px;font-size:10.8px;transform:scaleX(1.0729)">kręgosłupa szyjnego.</div>
</body></html>
